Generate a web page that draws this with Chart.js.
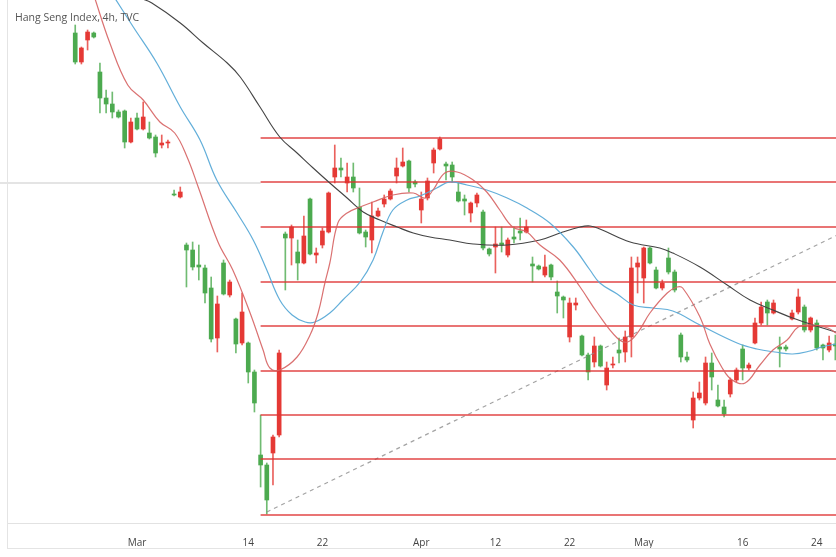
<!DOCTYPE html>
<html>
<head>
<meta charset="utf-8">
<script src="https://cdn.jsdelivr.net/npm/chart.js@4/dist/chart.umd.min.js"></script>
<style>
  html, body { margin: 0; padding: 0; background: #fff; }
  #wrap { position: relative; width: 836px; height: 557px; }
  #title { position: absolute; left: 15px; top: 10px; font: 10.5px "Open Sans", "Noto Sans", sans-serif; color: #555; }
</style>
</head>
<body>
<div id="wrap">
  <canvas id="hsi" width="836" height="557"></canvas>
  <div id="title">Hang Seng Index, 4h, TVC</div>
</div>
<script>
// bar index 0 = first 4h bar of 1 March, two bars per trading day
const candleStart = -10;

const open = [23070,22780,23000,23070,22680,22420,22360,22280,22290,21980,
  22220,22110,22070,22030,21950,21970,21460,21430,20950,20900,
  20750,20720,20520,20020,20770,20450,20210,19970,19970,19680,
  18850,18750,18870,19050,21060,21020,20880,20770,21410,20850,
  20950,21080,21630,21720,21570,21630,21330,21080,21000,21240,
  21360,21410,21640,21740,21790,21580,21300,21420,21770,21910,
  21760,21750,21480,21410,21270,21370,21280,20910,20930,20970,
  20850,21030,21090,21080,20760,20740,20650,20750,20480,20430,
  20030,20350,20040,19850,19780,19940,19550,19750,19900,19880,
  20030,20730,20620,20920,20700,20520,20820,20680,20050,19830,
  19200,19420,19370,19770,19400,19330,19460,19600,19910,19720,
  19970,20170,20380,20270,19930,19930,20210,20280,20330,20100,
  20170,19950,19900,19960];
const high = [23150,22930,23100,23080,22770,22500,22480,22300,22300,22220,
  22270,22380,22180,22050,22050,22000,21500,21530,20970,20980,
  20950,20750,20630,20440,20800,20600,20220,20470,19980,19700,
  19250,18770,19050,19900,21080,21150,21000,21240,21420,20920,
  21120,21480,21950,21820,21770,21770,21520,21100,21380,21320,
  21450,21510,21820,21920,21800,21600,21480,21620,21920,22030,
  21780,21780,21570,21450,21380,21470,21300,20920,21130,21130,
  21020,21130,21220,21200,20830,20750,20850,20760,20590,20440,
  20420,20420,20050,19870,20030,19950,19780,19830,20020,20090,
  20830,20830,20930,20930,20730,20600,20920,20700,20070,19880,
  19480,19580,19830,19870,19550,19400,19620,19720,19950,19770,
  20220,20380,20400,20400,20030,19950,20300,20510,20350,20230,
  20200,19960,20040,20050];
const low = [22760,22760,22900,23020,22270,22270,22220,22220,21920,21970,
  22100,22100,22010,21830,21920,21920,21440,21420,20530,20700,
  20600,20370,19980,19880,20450,20430,19870,19950,19570,19280,
  18530,18260,18550,19030,20500,20750,20600,20760,20850,20770,
  20920,21070,21570,21630,21480,21480,21060,20930,20870,21230,
  21330,21400,21570,21730,21480,21530,21170,21400,21670,21900,
  21600,21580,21380,21250,21180,21330,20900,20840,20670,20880,
  20830,20970,21000,21070,20580,20700,20630,20600,20270,20220,
  19980,20300,19840,19600,19730,19730,19500,19720,19770,19780,
  19830,20470,20370,20760,20510,20500,20660,20480,19780,19780,
  19120,19400,19350,19500,19330,19230,19430,19580,19600,19700,
  19960,20150,20150,20260,19730,19890,20200,20260,20080,20080,
  19900,19800,19880,19800];
const close = [22780,22920,23080,23030,22420,22360,22280,22230,21980,22180,
  22110,22230,22020,21870,21970,21980,21450,21480,20900,20730,
  20730,20470,20010,20360,20460,20580,19960,20280,19680,19370,
  18750,18400,19030,19870,21020,21130,20770,21040,20860,20870,
  21090,21470,21720,21700,21630,21520,21070,21030,21240,21290,
  21410,21490,21720,21780,21520,21560,21410,21590,21900,22010,
  21740,21630,21390,21390,21370,21450,20920,20860,20960,20950,
  21000,21010,21070,21130,20740,20710,20730,20630,20440,20400,
  20370,20370,19850,19680,19940,19740,19720,19760,19870,20030,
  20720,20770,20920,20770,20520,20570,20680,20500,19830,19800,
  19420,19470,19770,19630,19340,19260,19600,19700,19720,19750,
  20170,20330,20270,20370,19910,19910,20270,20430,20100,20220,
  19920,19920,19970,19940];

// moving averages at these bar positions
const fastIdx = [-7,-4.4,-1.5,1,3.7,6.1,8.1,9.9,13.1,15.5,18.3,20.4,21.5,23.1,25.9,28,29.3,30.4,31.2,32.5,34,36.1,38.2,41.4,44.7,46.6,47.9,49.8,51.8,54.4,56.6,58.7,60.8,63.1,65.2,68.4,71.7,74.4,77.7,79.4,81.1,83,85.8,87.4,88.3,91.1,92.7,94.7,96.3,98.4,100.8,102.9,105.2,107,109.4,111.8,113.1];
const fastVal = [23450,22970,22550,22400,22180,22070,21830,21530,20980,20700,20270,19900,19720,19700,19830,20050,20270,20570,20770,21170,21270,21330,21380,21450,21470,21420,21500,21670,21680,21600,21480,21300,21130,21080,20950,20800,20530,20280,20020,19980,20080,20270,20470,20530,20520,20230,19960,19720,19600,19570,19750,19900,20000,20130,20150,20120,20070];
const midIdx = [-3.6,-0.6,3.2,7,10.2,12.9,16.2,18.8,21,23.1,25.1,27.2,28.8,31.2,33.3,36.1,38.2,39.8,41.4,43.7,45.8,48.5,50.6,53.4,56.6,59.9,63.1,66.8,70.6,73.3,74.9,77.7,80.3,83.5,86.7,91.1,97.1,100.3,103.2,106.1,108.9,110.8,113.1];
const midVal = [23420,23130,22770,22330,22000,21600,21270,21000,20700,20400,20250,20180,20180,20270,20400,20580,20800,21080,21300,21400,21440,21520,21580,21550,21500,21420,21320,21170,20930,20700,20570,20460,20350,20320,20290,20150,19970,19910,19880,19860,19890,19930,19960];
const slowIdx = [0.5,2.4,7,10.7,14.6,16.7,19.9,23.1,25.9,28.5,31.2,34,36.6,39.3,42.1,44.7,47.4,50.6,54.4,59.9,65.2,68.9,71.7,73.3,74.9,79.8,84.6,86.7,91.1,95.5,99.2,102.9,106.1,109.4,113.1];
const slowVal = [23420,23370,23170,22970,22770,22630,22330,22030,21870,21720,21570,21420,21280,21200,21130,21070,21030,21000,20960,20950,21000,21080,21130,21140,21110,20980,20920,20870,20730,20550,20400,20300,20220,20150,20080];

// fib levels drawn from bar 20 to the right edge
const fibStart = 20;
const fibLevels = [22020, 21580, 21130, 20580, 20140, 19690, 19250, 18810, 18250];
const crossLevel = 21570;
const trendFrom = [21, 18280];
const trendTo = [114, 21070];

const tickIdx = [0, 18, 30, 46, 58, 70, 82, 98, 110];
const tickLabels = ['Mar', '14', '22', 'Apr', '12', '22', 'May', '16', '24'];

const xMin = -21.04, xMax = 113.11;
const yMin = 18170, yMax = 23400;

const UP = '#e53935';
const DOWN = '#4caa4f';

const bars = open.map((o, i) => ({ x: candleStart + i, o: o, c: close[i], h: high[i], l: low[i] }));
const colors = bars.map(b => b.c >= b.o ? UP : DOWN);

const datasets = [];

// MAs on top
datasets.push({ type: 'line', data: fastIdx.map((x, i) => ({ x, y: fastVal[i] })), borderColor: 'rgba(214,98,98,0.9)', borderWidth: 1.2, pointRadius: 0, tension: 0.4, order: 1 });
datasets.push({ type: 'line', data: midIdx.map((x, i) => ({ x, y: midVal[i] })), borderColor: 'rgba(90,170,215,0.95)', borderWidth: 1.2, pointRadius: 0, tension: 0.4, order: 1 });
datasets.push({ type: 'line', data: slowIdx.map((x, i) => ({ x, y: slowVal[i] })), borderColor: '#444', borderWidth: 1.1, pointRadius: 0, tension: 0.4, order: 1 });

fibLevels.forEach(lv => {
  datasets.push({ type: 'line', data: [{ x: fibStart, y: lv }, { x: xMax + 1, y: lv }], borderColor: 'rgba(222,50,50,0.9)', borderWidth: 1.6, pointRadius: 0, order: 2 });
});
datasets.push({ type: 'line', data: [{ x: xMin - 1.2, y: crossLevel }, { x: fibStart, y: crossLevel }], borderColor: 'rgba(150,150,150,0.5)', borderWidth: 1, pointRadius: 0, clip: false, order: 2 });
datasets.push({ type: 'line', data: [{ x: trendFrom[0], y: trendFrom[1] }, { x: trendTo[0], y: trendTo[1] }], borderColor: 'rgba(140,140,140,0.8)', borderWidth: 1.2, borderDash: [4, 4], pointRadius: 0, order: 2 });

datasets.push({ type: 'bar', data: bars.map(b => ({ x: b.x, y: [b.o, b.c] })), backgroundColor: colors, barThickness: 4, grouped: false, borderWidth: 0, borderSkipped: false, order: 3 });
datasets.push({ type: 'bar', data: bars.map(b => ({ x: b.x, y: [b.l, b.h] })), backgroundColor: colors.map(c => c + 'cc'), barThickness: 1, grouped: false, borderWidth: 0, borderSkipped: false, order: 4 });

const framePlugin = {
  id: 'frame',
  afterDraw(chart) {
    const ctx = chart.ctx;
    const a = chart.chartArea;
    ctx.save();
    ctx.strokeStyle = '#e4e4e4';
    ctx.lineWidth = 1;
    ctx.beginPath();
    ctx.moveTo(a.left + 0.5, 0);
    ctx.lineTo(a.left + 0.5, 548);
    ctx.moveTo(a.left, 548.5);
    ctx.lineTo(a.right, 548.5);
    ctx.stroke();
    ctx.restore();
  }
};

new Chart(document.getElementById('hsi'), {
  type: 'line',
  data: { datasets },
  options: {
    responsive: false,
    animation: false,
    events: [],
    layout: { padding: { left: 7, top: 0, right: 0, bottom: 0 } },
    plugins: { legend: { display: false }, tooltip: { enabled: false } },
    scales: {
      x: {
        type: 'linear',
        offset: false,
        min: xMin,
        max: xMax,
        grid: { display: false, offset: false },
        border: { display: true, color: '#e2e2e2' },
        afterFit: s => { s.height = 34; },
        afterBuildTicks: s => { s.ticks = tickIdx.map(v => ({ value: v })); },
        ticks: {
          autoSkip: false,
          maxRotation: 0,
          padding: 6,
          color: '#444',
          font: { size: 10, family: '"Open Sans", "Noto Sans", sans-serif' },
          callback: v => tickLabels[tickIdx.indexOf(v)]
        }
      },
      y: {
        display: false,
        min: yMin,
        max: yMax
      }
    }
  },
  plugins: [framePlugin]
});
</script>
</body>
</html>
